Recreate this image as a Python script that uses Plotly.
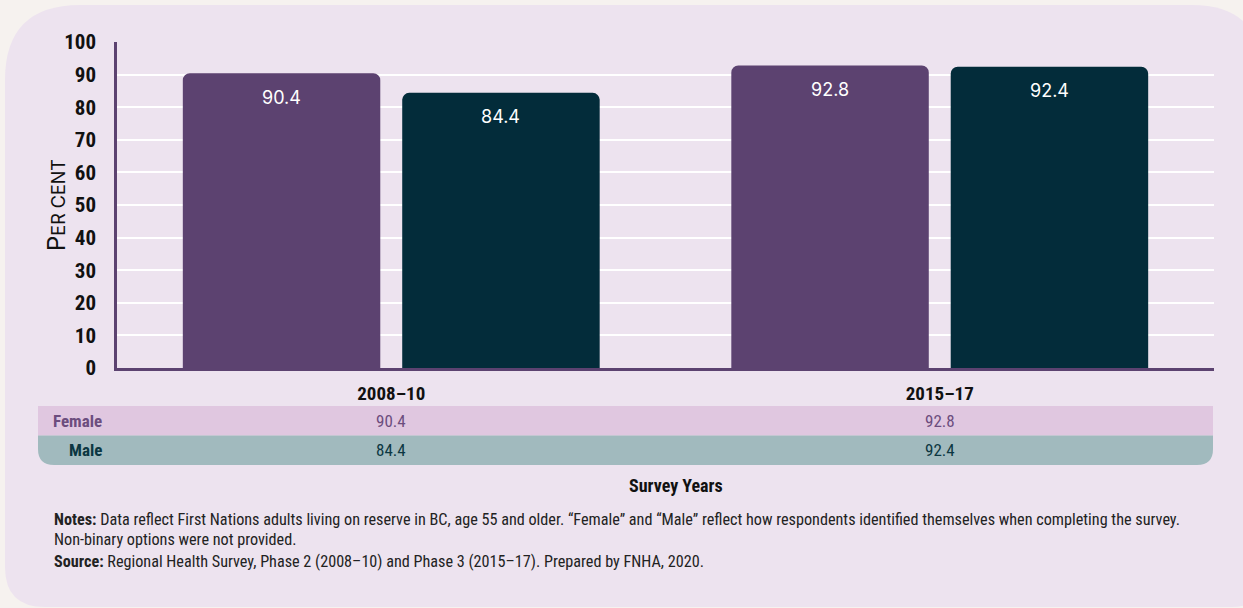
import plotly.graph_objects as go

categories = ["2008–10", "2015–17"]
female = [90.4, 92.8]
male = [84.4, 92.4]
y_ticks = [0, 10, 20, 30, 40, 50, 60, 70, 80, 90, 100]

W, H = 1243, 608
L, R, T, B = 117, 1214, 42, 368
PW, PH = R - L, B - T


def X(px):
    return (px - L) / PW


def Y(py):
    return (B - py) / PH


COND = "Liberation Sans Narrow, Roboto Condensed, Arial Narrow, Roboto, sans-serif"
GEO = "Inter, Open Sans, sans-serif"
F_COL = "#5c4270"
M_COL = "#032c3a"
PANEL = "#ede3ef"

fig = go.Figure()
fig.add_trace(go.Bar(x=categories, y=female, name="Female", marker=dict(color=F_COL, cornerradius=7, line=dict(width=0))))
fig.add_trace(go.Bar(x=categories, y=male, name="Male", marker=dict(color=M_COL, cornerradius=7, line=dict(width=0))))

bargap = 0.2
off = (1 - bargap) / 4

shapes = []


def rpath(x0, y0, x1, y1, rtl, rtr, rbr, rbl):
    # pixel coords, y downward
    p = f"M {X(x0 + rtl)},{Y(y0)} L {X(x1 - rtr)},{Y(y0)} "
    p += f"Q {X(x1)},{Y(y0)} {X(x1)},{Y(y0 + rtr)} "
    p += f"L {X(x1)},{Y(y1 - rbr)} Q {X(x1)},{Y(y1)} {X(x1 - rbr)},{Y(y1)} "
    p += f"L {X(x0 + rbl)},{Y(y1)} Q {X(x0)},{Y(y1)} {X(x0)},{Y(y1 - rbl)} "
    p += f"L {X(x0)},{Y(y0 + rtl)} Q {X(x0)},{Y(y0)} {X(x0 + rtl)},{Y(y0)} Z"
    return p


# panel
shapes.append(dict(type="path", xref="paper", yref="paper", path=rpath(5, 5, 1262, 607, 75, 70, 30, 40),
                   fillcolor=PANEL, line=dict(width=0), layer="below"))
# table rows
shapes.append(dict(type="path", xref="paper", yref="paper", path=rpath(38, 406, 1213, 435.5, 0, 0, 0, 0),
                   fillcolor="#e0c7e0", line=dict(width=0), layer="below"))
shapes.append(dict(type="path", xref="paper", yref="paper", path=rpath(38, 435.5, 1213, 465, 0, 0, 16, 16),
                   fillcolor="#a1babe", line=dict(width=0), layer="below"))

annotations = []
# bar labels
for i, c in enumerate(categories):
    annotations.append(dict(x=i - off, y=female[i], xref="x", yref="y", text=f"{female[i]:.1f}", showarrow=False,
                            yshift=-24, xanchor="center", yanchor="middle",
                            font=dict(family=GEO, size=18, color="white")))
    annotations.append(dict(x=i + off, y=male[i], xref="x", yref="y", text=f"{male[i]:.1f}", showarrow=False,
                            yshift=-24, xanchor="center", yanchor="middle",
                            font=dict(family=GEO, size=18, color="white")))
    # table values
    annotations.append(dict(x=i, y=Y(421), xref="x", yref="paper", text=f"{female[i]:.1f}", showarrow=False,
                            xanchor="center", yanchor="middle",
                            font=dict(family=COND, size=17, color="#6c4d7e")))
    annotations.append(dict(x=i, y=Y(450), xref="x", yref="paper", text=f"{male[i]:.1f}", showarrow=False,
                            xanchor="center", yanchor="middle",
                            font=dict(family=COND, size=17, color="#0c3742")))

# table row labels
annotations.append(dict(x=X(104), y=Y(421), xref="paper", yref="paper", text="<b>Female</b>", showarrow=False,
                        xanchor="right", yanchor="middle", font=dict(family=COND, size=17, color="#6c4d7e")))
annotations.append(dict(x=X(104), y=Y(450), xref="paper", yref="paper", text="<b>Male</b>", showarrow=False,
                        xanchor="right", yanchor="middle", font=dict(family=COND, size=17, color="#0c3742")))
# y title (small caps)
annotations.append(dict(x=X(56), y=Y(205), xref="paper", yref="paper",
                        text="P<span style='font-size:18px'>ER CENT</span>", showarrow=False,
                        textangle=-90, xanchor="center", yanchor="middle",
                        font=dict(family=GEO, size=24, color="#111")))
# x title
annotations.append(dict(x=X(676), y=Y(485), xref="paper", yref="paper", text="<b>Survey Years</b>", showarrow=False,
                        xanchor="center", yanchor="middle",
                        font=dict(family=COND, size=18, color="#111")))
# notes
notes = [
    (519, "<b>Notes:</b> Data reflect First Nations adults living on reserve in BC, age 55 and older. “Female” and “Male” reflect how respondents identified themselves when completing the survey."),
    (539, "Non-binary options were not provided."),
    (561, "<b>Source:</b> Regional Health Survey, Phase 2 (2008–10) and Phase 3 (2015–17). Prepared by FNHA, 2020."),
]
for yy, t in notes:
    annotations.append(dict(x=X(52), y=Y(yy), xref="paper", yref="paper", text=t, showarrow=False,
                            xanchor="left", yanchor="middle", font=dict(family=COND, size=16.2, color="#222")))

fig.update_layout(
    width=W, height=H,
    margin=dict(l=L, r=W - R, t=T, b=H - B, autoexpand=False),
    paper_bgcolor="#f6f2ef",
    plot_bgcolor="rgba(0,0,0,0)",
    barmode="group", bargap=bargap, bargroupgap=0.1,
    showlegend=False,
    shapes=shapes,
    annotations=annotations,
    xaxis=dict(showgrid=False, showline=True, linecolor=F_COL, linewidth=2.5, automargin=False,
               tickfont=dict(family=COND, size=19, color="#111", weight="bold"),
               ticklabelstandoff=6, zeroline=False),
    yaxis=dict(range=[0, 100], tickvals=y_ticks, showgrid=True, gridcolor="white", gridwidth=1.5,
               showline=True, linecolor=F_COL, linewidth=2.5, zeroline=False, automargin=False,
               tickfont=dict(family=COND, size=21, color="#111", weight="bold"),
               ticklabelstandoff=14),
)

fig.write_html("out.html", config={"displayModeBar": False},
               post_script="document.body.style.margin='0';document.body.style.background='#f6f2ef';")
